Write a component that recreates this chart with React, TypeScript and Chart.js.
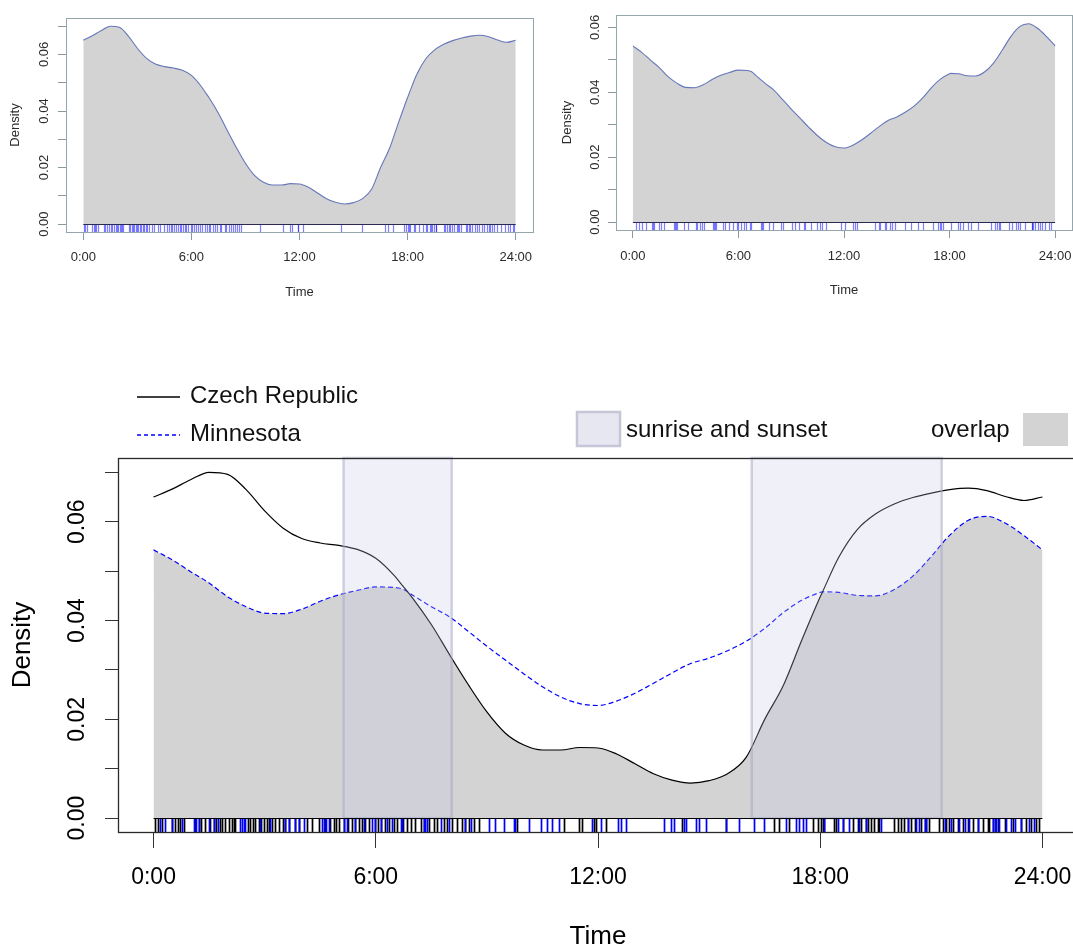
import React, { useEffect, useRef } from 'react';
import { Chart, registerables } from 'chart.js';

Chart.register(...registerables);

// ---------------- data ----------------
const HOURS = [0, 0.5, 1, 1.5, 2, 2.5, 3, 3.5, 4, 4.5, 5, 5.5, 6, 6.5, 6.75, 7, 7.5, 8, 8.5, 9, 9.5, 10, 10.5, 11, 11.5, 12, 12.5, 13, 13.5, 14, 14.5, 15, 15.5, 16, 16.5, 17, 17.5, 18, 18.05, 18.5, 19, 19.5, 20, 20.5, 21, 21.5, 22, 22.5, 23, 23.5, 24];

const CZECH = [0.0650, 0.0666, 0.0685, 0.0700, 0.0696, 0.0665, 0.0622, 0.0587, 0.0566, 0.0557, 0.0552, 0.0544, 0.0526, 0.0491, 0.0468, 0.0445, 0.0392, 0.0330, 0.0270, 0.0215, 0.0172, 0.0148, 0.0138, 0.0138, 0.0143, 0.0142, 0.0130, 0.0110, 0.0090, 0.0077, 0.0071, 0.0076, 0.0090, 0.0123, 0.0200, 0.0268, 0.0360, 0.0448, 0.0456, 0.0528, 0.0584, 0.0616, 0.0636, 0.0649, 0.0658, 0.0665, 0.0668, 0.0663, 0.0651, 0.0643, 0.0650];

const MINNESOTA = [0.0543, 0.0523, 0.0499, 0.0476, 0.0448, 0.0428, 0.0415, 0.0414, 0.0423, 0.0439, 0.0452, 0.0461, 0.0468, 0.0467, 0.0463, 0.0451, 0.0428, 0.0407, 0.0378, 0.0348, 0.0320, 0.0292, 0.0266, 0.0245, 0.0232, 0.0228, 0.0237, 0.0253, 0.0273, 0.0294, 0.0313, 0.0324, 0.0339, 0.0358, 0.0384, 0.0416, 0.0441, 0.0457, 0.0458, 0.0457, 0.0451, 0.0450, 0.0463, 0.0490, 0.0530, 0.0573, 0.0603, 0.0611, 0.0597, 0.0572, 0.0543];

const CZECH_RUG = [0.05, 0.12, 0.23, 0.51, 0.59, 0.66, 0.72, 0.81, 1.13, 1.22, 1.29, 1.40, 1.53, 1.62, 1.68, 1.80, 1.86, 1.94, 2.05, 2.12, 2.16, 2.21, 2.55, 2.61, 2.68, 2.75, 2.84, 2.91, 2.97, 3.06, 3.13, 3.20, 3.29, 3.38, 3.49, 3.56, 3.67, 3.83, 3.92, 4.14, 4.28, 4.46, 4.64, 4.77, 4.86, 4.93, 5.02, 5.14, 5.25, 5.36, 5.45, 5.54, 5.63, 5.72, 5.83, 5.99, 6.06, 6.15, 6.26, 6.35, 6.49, 6.58, 6.73, 6.85, 6.96, 7.05, 7.21, 7.30, 7.43, 7.57, 7.66, 7.84, 7.93, 8.06, 8.20, 8.33, 8.42, 8.51, 8.65, 8.78, 9.82, 11.09, 11.49, 11.58, 11.90, 11.94, 12.21, 14.28, 15.45, 16.76, 16.90, 17.17, 17.80, 17.93, 18.02, 18.07, 18.11, 18.38, 18.43, 18.61, 18.88, 19.01, 19.10, 19.24, 19.28, 19.37, 19.46, 19.55, 19.60, 20.00, 20.09, 20.18, 20.27, 20.36, 20.45, 20.55, 20.72, 20.82, 20.86, 20.95, 21.22, 21.31, 21.40, 21.49, 21.58, 21.72, 21.85, 21.99, 22.12, 22.26, 22.39, 22.53, 22.57, 22.66, 22.80, 22.98, 23.20, 23.43, 23.56, 23.70, 23.83, 23.92];

const MINNESOTA_RUG = [0.18, 0.32, 0.51, 0.77, 1.08, 1.14, 1.22, 1.49, 1.62, 1.74, 2.34, 2.39, 2.43, 2.48, 2.88, 3.15, 3.56, 3.65, 3.83, 3.92, 4.05, 4.55, 4.59, 4.66, 4.73, 5.14, 5.23, 5.45, 5.68, 5.90, 5.99, 6.13, 6.31, 6.44, 6.67, 6.71, 7.30, 7.34, 7.39, 7.75, 7.97, 8.42, 8.56, 9.05, 9.23, 9.46, 9.73, 9.77, 10.14, 10.45, 10.63, 10.77, 10.95, 11.85, 12.08, 12.53, 12.62, 12.75, 13.79, 13.97, 14.06, 14.33, 14.37, 14.64, 14.73, 14.91, 15.45, 15.81, 16.22, 16.49, 17.08, 17.35, 17.44, 17.53, 17.62, 18.11, 18.47, 18.61, 18.79, 19.06, 19.24, 19.64, 20.36, 20.59, 20.68, 20.82, 20.86, 21.36, 21.54, 21.76, 21.90, 22.03, 22.26, 22.66, 22.71, 22.75, 22.84, 23.02, 23.16, 23.25, 23.43, 23.63, 23.77];

const X_TICKS = [0, 6, 12, 18, 24];
const X_TICK_LABELS = ['0:00', '6:00', '12:00', '18:00', '24:00'];
const Y_TICKS = [0, 0.01, 0.02, 0.03, 0.04, 0.05, 0.06, 0.07];
const Y_LABEL_VALUES = [0, 0.02, 0.04, 0.06];
const Y_TICK_LABELS = ['0.00', '0.02', '0.04', '0.06'];
const SUN_BANDS = [[5.13, 8.05], [16.15, 21.28]];
const SERIES_NAMES = ['Czech Republic', 'Minnesota'];
const BAND_NAME = 'sunrise and sunset';
const OVERLAP_NAME = 'overlap';
const X_TITLE = 'Time';
const Y_TITLE = 'Density';

const FONT = '"Liberation Sans", Arial, Helvetica, sans-serif';

const pts = (vals: number[]) => HOURS.map((h, i) => ({ x: h, y: vals[i] }));
const overlapVals = HOURS.map((_, i) => Math.min(CZECH[i], MINNESOTA[i]));

type Decor = {
  rugs: { values: number[]; color: string; width: number }[];
  baseColor: string;
  boxColor: string;
  boxWidth: number;
  labelX: number;
  labelFont: number;
  textColor: string;
  bands?: number[][];
  legend?: boolean;
};

function makeDecor(cfg: Decor) {
  return {
    id: 'rDecor',
    afterDatasetsDraw(chart: any) {
      const { ctx, chartArea: a } = chart;
      const x = chart.scales.x;
      const y = chart.scales.y;
      const y0 = y.getPixelForValue(0);
      ctx.save();
      if (cfg.bands) {
        for (const [s, e] of cfg.bands) {
          const x1 = x.getPixelForValue(s);
          const x2 = x.getPixelForValue(e);
          ctx.fillStyle = 'rgba(200,200,228,0.27)';
          ctx.fillRect(x1, a.top, x2 - x1, y0 - a.top);
          ctx.strokeStyle = 'rgba(165,165,195,0.5)';
          ctx.lineWidth = 2.5;
          ctx.strokeRect(x1, a.top, x2 - x1, y0 - a.top);
        }
      }
      for (const rug of cfg.rugs) {
        ctx.strokeStyle = rug.color;
        ctx.lineWidth = rug.width;
        for (const h of rug.values) {
          const px = Math.round(x.getPixelForValue(h)) + 0.5;
          ctx.beginPath();
          ctx.moveTo(px, y0);
          ctx.lineTo(px, a.bottom);
          ctx.stroke();
        }
      }
      ctx.strokeStyle = cfg.baseColor;
      ctx.lineWidth = 1;
      ctx.beginPath();
      ctx.moveTo(x.getPixelForValue(0), Math.round(y0) + 0.5);
      ctx.lineTo(x.getPixelForValue(24), Math.round(y0) + 0.5);
      ctx.stroke();
      ctx.strokeStyle = cfg.boxColor;
      ctx.lineWidth = cfg.boxWidth;
      ctx.strokeRect(Math.round(a.left) + 0.5, Math.round(a.top) + 0.5, Math.round(a.right - a.left), Math.round(a.bottom - a.top));
      // rotated y tick labels (R style)
      ctx.fillStyle = cfg.textColor;
      ctx.font = `${cfg.labelFont}px ${FONT}`;
      ctx.textAlign = 'center';
      ctx.textBaseline = 'middle';
      Y_LABEL_VALUES.forEach((v, i) => {
        if (v > y.max) return;
        ctx.save();
        ctx.translate(cfg.labelX, y.getPixelForValue(v));
        ctx.rotate(-Math.PI / 2);
        ctx.fillText(Y_TICK_LABELS[i], 0, 0);
        ctx.restore();
      });
      if (cfg.legend) {
        ctx.font = `24px ${FONT}`;
        ctx.textAlign = 'left';
        ctx.textBaseline = 'alphabetic';
        ctx.fillStyle = '#111';
        ctx.strokeStyle = '#000';
        ctx.lineWidth = 1.3;
        ctx.beginPath();
        ctx.moveTo(137, 37);
        ctx.lineTo(180, 37);
        ctx.stroke();
        ctx.fillText(SERIES_NAMES[0], 190, 43);
        ctx.strokeStyle = '#0000ff';
        ctx.setLineDash([4, 3]);
        ctx.beginPath();
        ctx.moveTo(137, 75);
        ctx.lineTo(180, 75);
        ctx.stroke();
        ctx.setLineDash([]);
        ctx.fillText(SERIES_NAMES[1], 190, 80.5);
        ctx.fillStyle = '#e7e7f1';
        ctx.fillRect(577, 52, 43, 34);
        ctx.strokeStyle = '#c6c6d8';
        ctx.lineWidth = 2.5;
        ctx.strokeRect(577, 52, 43, 34);
        ctx.fillStyle = '#111';
        ctx.fillText(BAND_NAME, 626, 76.5);
        ctx.fillText(OVERLAP_NAME, 931, 76.5);
        ctx.fillStyle = '#d3d3d3';
        ctx.fillRect(1023, 53, 45, 33);
      }
      ctx.restore();
    },
  };
}

type Panel = {
  datasets: any[];
  yMin: number;
  yMax: number;
  padding: { left: number; top: number; right: number; bottom: number };
  yWidth: number;
  xHeight: number;
  tickLen: number;
  tickPad: number;
  tickFont: number;
  titleFont: number;
  yTitlePad: number;
  xTitlePad: number;
  axisColor: string;
  textColor: string;
  decor: Decor;
};

function buildConfig(p: Panel): any {
  return {
    type: 'line',
    data: { datasets: p.datasets },
    plugins: [makeDecor(p.decor)],
    options: {
      responsive: false,
      animation: false,
      events: [],
      layout: { padding: p.padding },
      elements: { point: { radius: 0 } },
      plugins: { legend: { display: false }, tooltip: { enabled: false } },
      scales: {
        x: {
          type: 'linear',
          min: -0.96,
          max: 24.96,
          afterBuildTicks: (ax: any) => {
            ax.ticks = X_TICKS.map((v) => ({ value: v }));
          },
          afterFit: (s: any) => {
            s.height = p.xHeight;
          },
          ticks: {
            autoSkip: false,
            maxRotation: 0,
            minRotation: 0,
            padding: p.tickPad,
            color: p.textColor,
            font: { family: FONT, size: p.tickFont },
            callback: (_v: any, i: number) => X_TICK_LABELS[i],
          },
          grid: {
            display: true,
            drawOnChartArea: false,
            drawTicks: true,
            tickLength: p.tickLen,
            color: p.axisColor,
            tickColor: p.axisColor,
            lineWidth: 1,
          },
          border: { display: false },
          title: {
            display: true,
            text: X_TITLE,
            color: p.textColor,
            font: { family: FONT, size: p.titleFont, lineHeight: 1 },
            padding: { top: 0, bottom: p.xTitlePad },
          },
        },
        y: {
          type: 'linear',
          min: p.yMin,
          max: p.yMax,
          afterBuildTicks: (ax: any) => {
            ax.ticks = Y_TICKS.filter((v) => v <= p.yMax).map((v) => ({ value: v }));
          },
          afterFit: (s: any) => {
            s.width = p.yWidth;
          },
          ticks: { display: false },
          grid: {
            display: true,
            drawOnChartArea: false,
            drawTicks: true,
            tickLength: p.decor.labelFont > 20 ? 13 : 8,
            color: p.axisColor,
            tickColor: p.axisColor,
            lineWidth: 1,
          },
          border: { display: false },
          title: {
            display: true,
            text: Y_TITLE,
            color: p.textColor,
            font: { family: FONT, size: p.titleFont, lineHeight: 1 },
            padding: { top: p.yTitlePad, bottom: 0 },
          },
        },
      },
    },
  };
}

function ChartCanvas({ config, left, top, width, height }: any) {
  const ref = useRef<HTMLCanvasElement | null>(null);
  useEffect(() => {
    if (!ref.current) return;
    const chart = new Chart(ref.current, config());
    return () => chart.destroy();
  }, []);
  return (
    <canvas
      ref={ref}
      width={width}
      height={height}
      style={{ position: 'absolute', left, top, width, height }}
    />
  );
}

const singleDataset = (vals: number[]) => ({
  data: pts(vals),
  fill: 'origin',
  backgroundColor: '#d3d3d3',
  borderColor: '#6677bb',
  borderWidth: 1.1,
  cubicInterpolationMode: 'monotone',
});

const topLeftConfig = () =>
  buildConfig({
    datasets: [singleDataset(CZECH)],
    yMin: -0.0028,
    yMax: 0.0729,
    padding: { left: 0, top: 18, right: 27, bottom: 0 },
    yWidth: 66,
    xHeight: 78,
    tickLen: 8,
    tickPad: 10,
    tickFont: 13,
    titleFont: 13,
    yTitlePad: 8.5,
    xTitlePad: 11.5,
    axisColor: '#8a98a2',
    textColor: '#2b2b2b',
    decor: {
      rugs: [{ values: CZECH_RUG, color: 'rgba(0,0,255,0.5)', width: 1.2 }],
      baseColor: '#2a2a55',
      boxColor: '#95a5ae',
      boxWidth: 1,
      labelX: 44,
      labelFont: 13,
      textColor: '#2b2b2b',
    },
  });

const topRightConfig = () =>
  buildConfig({
    datasets: [singleDataset(MINNESOTA)],
    yMin: -0.00245,
    yMax: 0.0638,
    padding: { left: 0, top: 15, right: 28, bottom: 0 },
    yWidth: 76,
    xHeight: 80,
    tickLen: 8,
    tickPad: 11,
    tickFont: 13,
    titleFont: 13,
    yTitlePad: 21,
    xTitlePad: 13.5,
    axisColor: '#8a98a2',
    textColor: '#2b2b2b',
    decor: {
      rugs: [{ values: MINNESOTA_RUG, color: 'rgba(0,0,255,0.5)', width: 1.2 }],
      baseColor: '#2a2a55',
      boxColor: '#95a5ae',
      boxWidth: 1,
      labelX: 55,
      labelFont: 13,
      textColor: '#2b2b2b',
    },
  });

const mainConfig = () =>
  buildConfig({
    datasets: [
      {
        data: pts(CZECH),
        borderColor: '#000000',
        borderWidth: 1.2,
        fill: false,
        cubicInterpolationMode: 'monotone',
        order: 0,
      },
      {
        data: pts(MINNESOTA),
        borderColor: '#0000ff',
        borderWidth: 1.2,
        borderDash: [5, 3],
        fill: false,
        cubicInterpolationMode: 'monotone',
        order: 1,
      },
      {
        data: pts(overlapVals),
        borderWidth: 0,
        borderColor: 'rgba(0,0,0,0)',
        backgroundColor: '#d3d3d3',
        fill: 'origin',
        cubicInterpolationMode: 'monotone',
        order: 5,
      },
    ],
    yMin: -0.0028,
    yMax: 0.0729,
    padding: { left: 0, top: 98, right: 22, bottom: 0 },
    yWidth: 118,
    xHeight: 128,
    tickLen: 16,
    tickPad: 16,
    tickFont: 23,
    titleFont: 26,
    yTitlePad: 10,
    xTitlePad: 10,
    axisColor: '#333333',
    textColor: '#000000',
    decor: {
      rugs: [
        { values: CZECH_RUG, color: '#000000', width: 1.7 },
        { values: MINNESOTA_RUG, color: '#0000ff', width: 1.7 },
      ],
      baseColor: '#000000',
      boxColor: '#2a2a2a',
      boxWidth: 1.3,
      labelX: 78,
      labelFont: 23,
      textColor: '#000000',
      bands: SUN_BANDS,
      legend: true,
    },
  });

export default function App() {
  return (
    <div
      style={{
        position: 'absolute',
        left: 0,
        top: 0,
        width: 1073,
        height: 948,
        overflow: 'hidden',
        background: '#ffffff',
      }}
    >
      <ChartCanvas config={topLeftConfig} left={0} top={0} width={560} height={310} />
      <ChartCanvas config={topRightConfig} left={540} top={0} width={560} height={310} />
      <ChartCanvas config={mainConfig} left={0} top={360} width={1100} height={600} />
    </div>
  );
}
